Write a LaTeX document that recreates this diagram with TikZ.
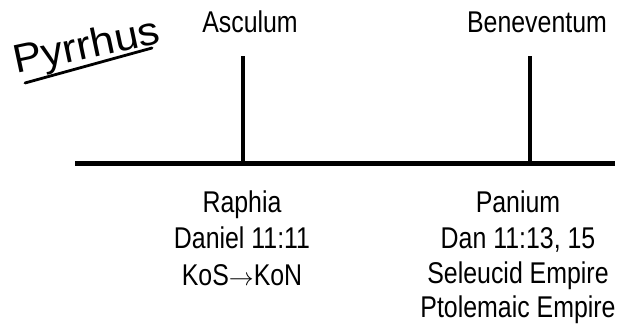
\documentclass[tikz,border=0pt]{standalone}
\usepackage{fontspec}
\setmainfont{Liberation Sans}
\newfontfamily\narrowfont[FakeStretch=0.83]{Liberation Sans}
\newfontfamily\widefont[FakeStretch=1.08]{Liberation Sans}
\begin{document}
\begin{tikzpicture}[x=1pt,y=-1pt,
  lbl/.style={font=\narrowfont\fontsize{30}{36}\selectfont, inner sep=0pt, anchor=base},
  bar/.style={line width=4.8pt},
  ul/.style={line width=2.8pt, line cap=round}]
\useasboundingbox (0,0) rectangle (637,328);
% axis
\coordinate (L) at (75,163.5);
\coordinate (R) at (615,163.5);
\coordinate (t1) at (243,163.5);
\coordinate (t1top) at (243,56);
\coordinate (t2) at (530,163.5);
\coordinate (t2top) at (530,56);
\draw[bar] (L) -- (R);
\draw[bar] (t1) -- (t1top);
\draw[bar] (t2) -- (t2top);
% top labels
\node[lbl] (asc) at (250,33) {Asculum};
\node[lbl] (ben) at (537,33) {Beneventum};
% bottom labels left
\node[lbl] (raph) at (242,212.5) {Raphia};
\node[lbl] (dan1) at (242,249) {Daniel 11:11};
\node[lbl] (kos) at (242,285.5) {KoS$\rightarrow$KoN};
% bottom labels right
\node[lbl] (pan) at (518,212.5) {Panium};
\node[lbl] (dan2) at (518,249) {Dan 11:13, 15};
\node[lbl] (sel) at (518,283.5) {Seleucid Empire};
\node[lbl] (pto) at (518,318) {Ptolemaic Empire};
% Pyrrhus
\node[font=\widefont\fontsize{40}{46}\selectfont, rotate=12, inner sep=0pt, anchor=base] (pyr) at (89,58.5) {Pyrrhus};
\coordinate (ulA) at (25,83);
\coordinate (ulB) at (152,48);
\draw[ul] (ulA) -- (ulB);
\end{tikzpicture}
\end{document}
